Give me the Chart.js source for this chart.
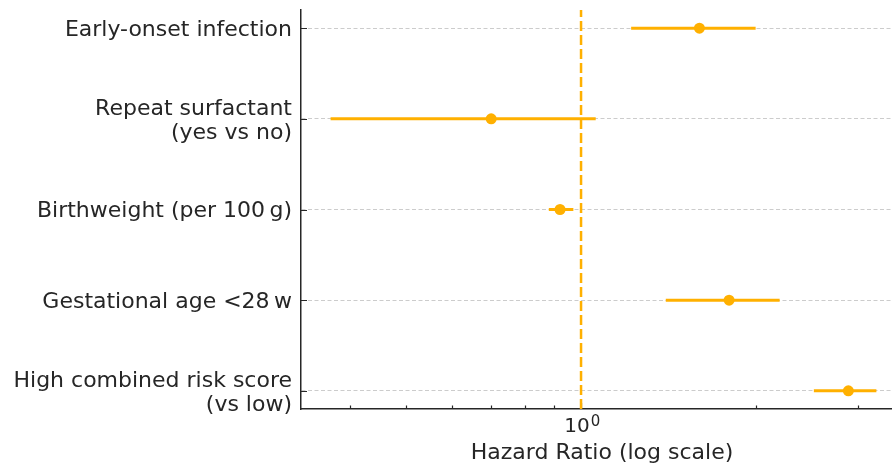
<!DOCTYPE html>
<html><head><meta charset="utf-8">
<script src="https://cdn.jsdelivr.net/npm/chart.js@4/dist/chart.umd.min.js"></script>
<style>
html,body{margin:0;padding:0;background:#fff;overflow:hidden;width:892px;height:466px}
#wrap{position:relative;width:910px;height:466px}
</style>
</head><body><div id="wrap"><canvas id="c" width="910" height="466"></canvas></div>
<script>
// ---- data ----
const categories = [
  "Early-onset infection",
  ["Repeat surfactant", "(yes vs no)"],
  "Birthweight (per 100\u2009g)",
  "Gestational age <28\u2009w",
  ["High combined risk score", "(vs low)"]
];
const hazardRatio = [1.60, 0.70, 0.92, 1.80, 2.89];
const ciLower     = [1.22, 0.37, 0.88, 1.40, 2.52];
const ciUpper     = [2.00, 1.06, 0.97, 2.20, 3.23];
const referenceHR = 1;
const majorTicks  = [1];
const majorTickBase = ["10"];
const majorTickExp  = ["0"];
const minorTicks  = [0.4, 0.5, 0.6, 0.7, 0.8, 0.9, 2, 3];
const xRange = [0.329, 3.59];
const yRange = [-0.2, 4.2];

// ---- style ----
const ORANGE = '#FFB000';
const TEXT = '#262626';
const FONT = 'DejaVu Sans';

const tickMarks = {
  id: 'tickMarks',
  beforeDatasetsDraw(chart) {
    const {ctx, scales: {x, y}, chartArea} = chart;
    ctx.save();
    ctx.strokeStyle = TEXT;
    ctx.lineWidth = 1.2;
    ctx.beginPath();
    categories.forEach((_, i) => {
      const py = Math.round(y.getPixelForValue(i)) + 0.5;
      ctx.moveTo(chartArea.left, py);
      ctx.lineTo(chartArea.left + 6, py);
    });
    minorTicks.forEach(v => {
      const px = Math.round(x.getPixelForValue(v)) + 0.5;
      ctx.moveTo(px, chartArea.bottom);
      ctx.lineTo(px, chartArea.bottom - 3.5);
    });
    majorTicks.forEach(v => {
      const px = Math.round(x.getPixelForValue(v)) + 0.5;
      ctx.moveTo(px, chartArea.bottom);
      ctx.lineTo(px, chartArea.bottom - 6);
    });
    ctx.stroke();
    ctx.restore();
  },
  afterDraw(chart) {
    // superscript exponent of the major tick labels (10^0)
    const {ctx, scales: {x}, chartArea} = chart;
    ctx.save();
    ctx.fillStyle = TEXT;
    ctx.textAlign = 'left';
    ctx.textBaseline = 'alphabetic';
    majorTicks.forEach((v, k) => {
      const cx = x.getPixelForValue(v) - 4;
      ctx.font = '20px "' + FONT + '"';
      const w = ctx.measureText(majorTickBase[k]).width;
      ctx.font = '15px "' + FONT + '"';
      ctx.fillText(majorTickExp[k], cx + w / 2 + 1, chartArea.bottom + 17);
    });
    ctx.restore();
  }
};

const datasets = [];
datasets.push({
  data: [{x: referenceHR, y: yRange[1]}, {x: referenceHR, y: yRange[0]}],
  showLine: true, borderColor: ORANGE, borderWidth: 2.5, borderDash: [10, 4],
  pointRadius: 0, order: 3
});
categories.forEach((_, i) => {
  datasets.push({
    data: [{x: ciLower[i], y: i}, {x: ciUpper[i], y: i}],
    showLine: true, borderColor: ORANGE, borderWidth: 3, pointRadius: 0, order: 2
  });
});
datasets.push({
  data: hazardRatio.map((v, i) => ({x: v, y: i})),
  pointRadius: 5.5, pointBackgroundColor: ORANGE, pointBorderWidth: 0,
  backgroundColor: ORANGE, borderColor: ORANGE, order: 1
});

new Chart(document.getElementById('c'), {
  type: 'scatter',
  data: {datasets},
  options: {
    responsive: false,
    animation: false,
    devicePixelRatio: 1,
    layout: {padding: {top: 10, right: 7, left: 0, bottom: 0}},
    plugins: {legend: {display: false}, tooltip: {enabled: false}},
    scales: {
      x: {
        type: 'logarithmic',
        bounds: 'data',
        min: xRange[0], max: xRange[1],
        afterBuildTicks: s => { s.ticks = majorTicks.map(v => ({value: v, major: true})); },
        afterFit: s => { s.height = 57; s.paddingLeft = 0; s.paddingRight = 0; },
        ticks: {
          autoSkip: false, maxRotation: 0, padding: 6, labelOffset: -4,
          color: TEXT, font: {family: FONT, size: 20},
          callback: (v) => { const k = majorTicks.indexOf(v); return k >= 0 ? majorTickBase[k] : ''; }
        },
        grid: {display: false, drawTicks: false},
        border: {display: true, color: TEXT, width: 1.5},
        title: {display: true, text: 'Hazard Ratio (log scale)', color: TEXT,
                font: {family: FONT, size: 22}, padding: {top: 0, bottom: 0}}
      },
      y: {
        type: 'linear',
        reverse: true,
        min: yRange[0], max: yRange[1],
        afterBuildTicks: s => { s.ticks = categories.map((_, i) => ({value: i})); },
        afterFit: s => { s.width = 301; s.paddingTop = 0; s.paddingBottom = 0; },
        ticks: {
          autoSkip: false, padding: 9, labelOffset: 2, color: TEXT,
          font: {family: FONT, size: 22, lineHeight: 1.09},
          callback: (v) => categories[v]
        },
        grid: {color: '#cccccc', lineWidth: 1, drawTicks: false},
        border: {display: true, color: TEXT, width: 1.5, dash: [4, 2.5]}
      }
    }
  },
  plugins: [tickMarks]
});
</script>
</body></html>
